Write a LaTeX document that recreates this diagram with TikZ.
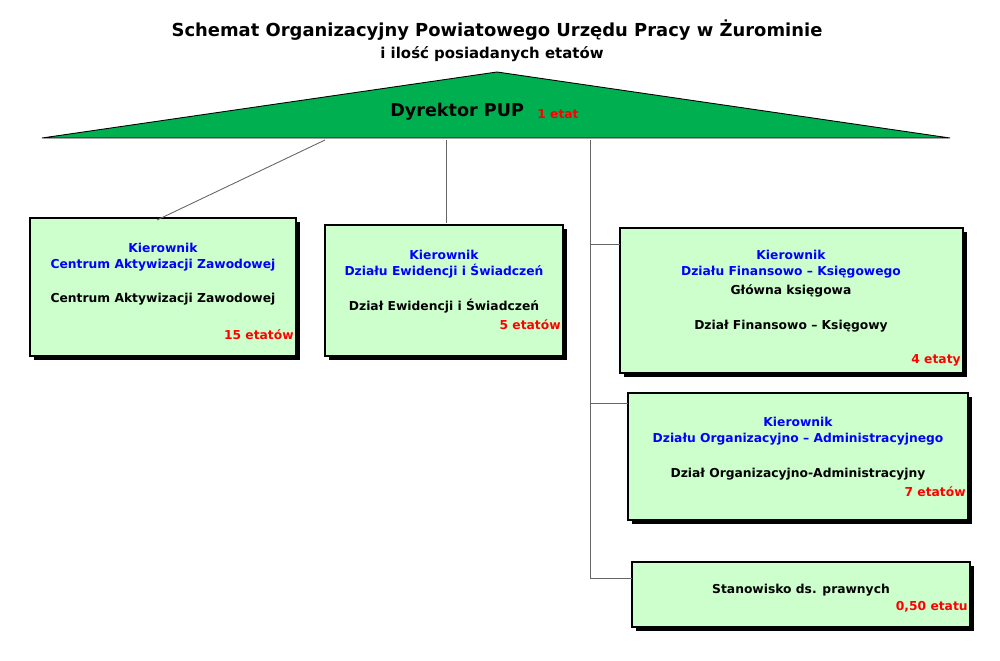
\documentclass[tikz,border=0pt]{standalone}
\usepackage{fontspec}
\setmainfont{DejaVu Sans}
\definecolor{boxg}{HTML}{CCFFCC}
\definecolor{trig}{HTML}{00B050}
\definecolor{kblue}{HTML}{0000FF}
\begin{document}
\begin{tikzpicture}[x=0.02cm,y=-0.02cm,
  box/.style={draw=black,fill=boxg,line width=0.8pt},
  shad/.style={fill=black},
  t/.style={font=\bfseries\fontsize{7}{9}\selectfont,align=center,inner sep=0pt},
  et/.style={font=\bfseries\fontsize{7}{9}\selectfont,text=red,inner sep=0pt,anchor=east},
  ln/.style={draw=gray!80!black,line width=0.5pt}]
\useasboundingbox (0,0) rectangle (1000,661);
\node[font=\bfseries\fontsize{10.2}{12}\selectfont] (title) at (497,30) {Schemat Organizacyjny Powiatowego Urzędu Pracy w Żurominie};
\node[font=\bfseries\fontsize{8.5}{10}\selectfont] (title2) at (492,54) {i ilość posiadanych etatów};
\draw[fill=trig,draw=black,line width=0.5pt] (42,138) -- (497,72) -- (950,138) -- cycle;
\node[font=\bfseries\fontsize{10}{12}\selectfont,anchor=west,inner sep=0pt] (dyr) at (390,112) {Dyrektor PUP};
\node[font=\bfseries\fontsize{7}{9}\selectfont,text=red,anchor=west,inner sep=0pt] at (537,114) {1 etat};
% boxes
\fill[shad] (34,222) rectangle (300,360);
\draw[box] (30,218) rectangle (296,356);
\fill[shad] (329,229) rectangle (567,360);
\draw[box] (325,225) rectangle (563,356);
\fill[shad] (624,232) rectangle (967,377);
\draw[box] (620,228) rectangle (963,373);
\fill[shad] (632,397) rectangle (972,524);
\draw[box] (628,393) rectangle (968,520);
\fill[shad] (636,566) rectangle (974,631);
\draw[box] (632,562) rectangle (970,627);
% connectors
\coordinate (a1) at (325,140); \coordinate (b1) at (157,220);
\coordinate (a2) at (446,140); \coordinate (b2) at (446,223);
\coordinate (a3) at (590,140); \coordinate (b3) at (590,578);
\draw[ln] (a1) -- (b1);
\draw[ln] (a2) -- (b2);
\draw[ln] (a3) -- (b3) -- (632,578);
\draw[ln] (590,244) -- (620,244);
\draw[ln] (590,403) -- (628,403);
% texts
\node[t,text=kblue] at (163,257) {Kierownik\\Centrum Aktywizacji Zawodowej};
\node[t] at (163,299) {Centrum Aktywizacji Zawodowej};
\node[et] at (294,335) {15 etatów};
\node[t,text=kblue] at (444,264) {Kierownik\\Działu Ewidencji i Świadczeń};
\node[t] at (444,306) {Dział Ewidencji i Świadczeń};
\node[et] at (561,325) {5 etatów};
\node[t,text=kblue] at (791,264) {Kierownik\\Działu Finansowo – Księgowego};
\node[t] at (791,291) {Główna księgowa};
\node[t] at (791,326) {Dział Finansowo – Księgowy};
\node[et] at (961,360) {4 etaty};
\node[t,text=kblue] at (798,431) {Kierownik\\Działu Organizacyjno – Administracyjnego};
\node[t] at (798,474) {Dział Organizacyjno-Administracyjny};
\node[et] at (966,492) {7 etatów};
\node[t] at (801,590) {Stanowisko ds. prawnych};
\node[et] at (968,607) {0,50 etatu};
\end{tikzpicture}
\end{document}
